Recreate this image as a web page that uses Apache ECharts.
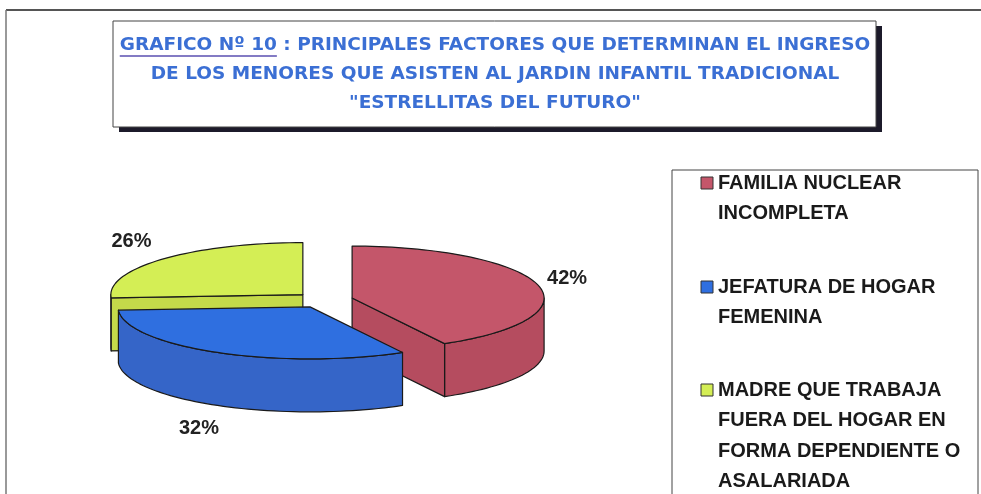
<!DOCTYPE html>
<html>
<head>
<meta charset="utf-8">
<style>
  html, body { margin: 0; padding: 0; background: #fff; }
  #chart { width: 981px; height: 494px; }
</style>
<script src="https://cdn.jsdelivr.net/npm/echarts@6/dist/echarts.min.js"></script>
</head>
<body>
<div id="chart"></div>
<script>
// datos del grafico
const categories = [
  'FAMILIA NUCLEAR\nINCOMPLETA',
  'JEFATURA DE HOGAR\nFEMENINA',
  'MADRE QUE TRABAJA\nFUERA DEL HOGAR EN\nFORMA DEPENDIENTE O\nASALARIADA'
]
const values = [42, 32, 26]
const topColors = ['#c4566a', '#2f6fe0', '#d4ee55']
const sideColors = ['#b54c5f', '#3565c8', '#c4da4a']
const depthOrder = [1, 2, 0] // verde atras, azul adelante

const titleLines = [
  'GRAFICO Nº 10 : PRINCIPALES FACTORES QUE DETERMINAN EL INGRESO',
  'DE LOS MENORES QUE ASISTEN AL JARDIN INFANTIL TRADICIONAL',
  '"ESTRELLITAS DEL FUTURO"'
]
const titleFont = 'bold 18.5px "DejaVu Sans", sans-serif'
const labelFont = 'bold 20px "Liberation Sans", Arial, sans-serif'

// geometria del pastel 3d
const cx = 324, cy = 300, rx = 192, ry = 52, depth = 53, explode = 29
const total = values.reduce((a, b) => a + b, 0)
const slices = []
let start = 90
values.forEach(v => {
  const sweep = v / total * 360
  slices.push({ a1: start - sweep, a2: start })
  start -= sweep
})

const rad = d => d * Math.PI / 180
function rim (c, deg, dy = 0) {
  return [c[0] + rx * Math.cos(rad(deg)), c[1] - ry * Math.sin(rad(deg)) + dy]
}
function arc (c, from, to, dy = 0) {
  const pts = []
  const n = Math.max(2, Math.ceil(Math.abs(to - from) / 2))
  for (let k = 0; k <= n; k++) pts.push(rim(c, from + (to - from) * k / n, dy))
  return pts
}

function renderItem (params, api) {
  const i = params.dataIndex
  const { a1, a2 } = slices[i]
  const mid = (a1 + a2) / 2
  const c = [cx + explode * Math.cos(rad(mid)), cy - explode * (ry / rx) * Math.sin(rad(mid))]
  const z = depthOrder[i] * 10
  const line = { stroke: '#1a1a1a', lineWidth: 1.2, lineJoin: 'round' }
  const children = []
  // paredes frontales
  for (let k = -2; k <= 1; k++) {
    const lo = Math.max(a1, 180 + 360 * k), hi = Math.min(a2, 360 + 360 * k)
    if (hi > lo) {
      const pts = arc(c, lo, hi).concat(arc(c, hi, lo, depth))
      children.push({ type: 'polygon', z2: z + 1, shape: { points: pts }, style: { fill: sideColors[i], ...line } })
    }
  }
  // caras de corte
  const cut = deg => ({
    type: 'polygon', z2: z + 2,
    shape: { points: [c, rim(c, deg), rim(c, deg, depth), [c[0], c[1] + depth]] },
    style: { fill: sideColors[i], ...line }
  })
  if (Math.sin(rad(a1 - 90)) < -0.02) children.push(cut(a1))
  if (Math.sin(rad(a2 + 90)) < -0.02) children.push(cut(a2))
  // cara superior
  children.push({
    type: 'polygon', z2: z + 5,
    shape: { points: [c].concat(arc(c, a1, a2)) },
    style: { fill: topColors[i], ...line }
  })
  // etiqueta
  const s = Math.sin(rad(mid)), co = Math.cos(rad(mid))
  const lp = [c[0] + (rx + 30 + 18 * Math.max(0, -co)) * co, c[1] - (ry + 26) * s + (s < 0 ? depth : 0)]
  children.push({
    type: 'text', z2: 100,
    style: {
      x: lp[0], y: lp[1], text: api.value(0) + '%',
      font: labelFont, fill: '#222', align: 'center', verticalAlign: 'middle'
    }
  })
  return { type: 'group', children }
}

// medir texto para ubicar el subrayado
const ctx = document.createElement('canvas').getContext('2d')
ctx.font = titleFont
const titleCenter = 495
const line1Left = titleCenter - ctx.measureText(titleLines[0]).width / 2
const underlineW = ctx.measureText('GRAFICO Nº 10').width

// leyenda dibujada a mano (icono en la primera linea)
const legendLine = 30.5
const legendFirstLines = [183, 287, 390]
const legendGraphics = []
categories.forEach((name, i) => {
  const y = legendFirstLines[i]
  legendGraphics.push({
    type: 'rect', shape: { x: 701, y: y - 6, width: 12, height: 12 },
    style: { fill: topColors[i], stroke: '#333', lineWidth: 1 }
  })
  legendGraphics.push({
    type: 'text', x: 718, y: y - legendLine / 2,
    style: {
      text: name, font: 'bold 20px "Liberation Sans", Arial, sans-serif',
      fill: '#1a1a1a', lineHeight: legendLine, verticalAlign: 'top', align: 'left'
    }
  })
})

const chart = echarts.init(document.getElementById('chart'))
chart.setOption({
  backgroundColor: '#fff',
  animation: false,
  title: {
    text: titleLines.join('\n'),
    left: titleCenter,
    textAlign: 'center',
    top: 31,
    padding: 0,
    textStyle: {
      color: '#3b6fd4', fontSize: 18.5, fontWeight: 'bold',
      fontFamily: '"DejaVu Sans", sans-serif', lineHeight: 29
    }
  },
  graphic: [
    { type: 'line', shape: { x1: 6, y1: 10, x2: 981, y2: 10 }, style: { stroke: '#555', lineWidth: 2 }, z: -10 },
    { type: 'line', shape: { x1: 6, y1: 10, x2: 6, y2: 494 }, style: { stroke: '#777', lineWidth: 1.5 }, z: -10 },
    { type: 'rect', shape: { x: 119, y: 26, width: 763, height: 106 }, style: { fill: '#1c1a2a' }, z: -9 },
    { type: 'rect', shape: { x: 113, y: 21, width: 763, height: 106 }, style: { fill: '#fff', stroke: '#444', lineWidth: 1 }, z: -8 },
    { type: 'line', shape: { x1: line1Left, y1: 56, x2: line1Left + underlineW, y2: 56 }, style: { stroke: '#5a4fb0', lineWidth: 1.5 }, z: 5 },
    { type: 'rect', shape: { x: 672, y: 170, width: 306, height: 340 }, style: { fill: 'none', stroke: '#444', lineWidth: 1 }, z: -8 },
    ...legendGraphics
  ],
  series: [
    {
      type: 'custom',
      coordinateSystem: 'none',
      renderItem,
      data: values.map(v => [v]),
      silent: true
    }
  ]
})
</script>
</body>
</html>
